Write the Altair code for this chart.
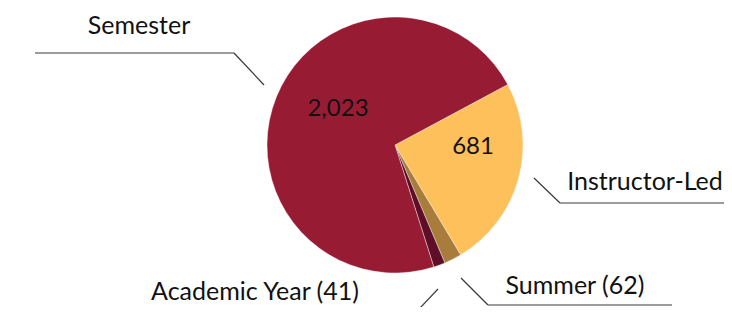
import math
import altair as alt
import pandas as pd

categories = ["Instructor-Led", "Summer", "Academic Year", "Semester"]
values = [681, 62, 41, 2023]
colors = ["#fdc05b", "#a87d3b", "#5e0f27", "#981b34"]

# layout (page pixels; chart origin is at page (8, 8))
OFF = 8
CX, CY, R = 395, 145, 128
START = math.radians(61.8)

pie_df = pd.DataFrame({"category": categories, "value": values, "order": list(range(len(values)))})

pie = alt.Chart(pie_df).mark_arc(outerRadius=R, stroke="#ffffff", strokeWidth=0.4).encode(
    theta=alt.Theta("value:Q", stack=True, scale=alt.Scale(range=[START, START + 2 * math.pi])),
    color=alt.Color("category:N", scale=alt.Scale(domain=categories, range=colors), legend=None),
    order=alt.Order("order:Q"),
    x=alt.value(CX - OFF),
    y=alt.value(CY - OFF),
)

# leader line segments (page pixels)
segs = [
    (35, 53, 234, 53), (234, 53, 264, 85),
    (534, 178, 560, 203), (560, 203, 724, 203),
    (461, 278, 488, 305), (488, 305, 672, 305),
    (438, 289, 420, 308),
]
seg_df = pd.DataFrame([
    {"x": a - OFF, "y": b - OFF, "x2": c - OFF, "y2": d - OFF} for a, b, c, d in segs
])
lines = alt.Chart(seg_df).mark_rule(color="#3a3a3a", strokeWidth=1.2).encode(
    x=alt.X("x:Q", scale=None), y=alt.Y("y:Q", scale=None),
    x2="x2:Q", y2="y2:Q",
)

outer_labels = ["Semester", "Instructor-Led", "Summer (62)", "Academic Year (41)"]
outer_pos = [(139, 26), (645, 182), (575, 286), (255, 292)]
lab_df = pd.DataFrame({
    "text": outer_labels,
    "x": [p[0] - OFF for p in outer_pos],
    "y": [p[1] - OFF for p in outer_pos],
})
labels = alt.Chart(lab_df).mark_text(font="Lato", fontSize=25, color="#111111", baseline="middle", align="center").encode(
    x=alt.X("x:Q", scale=None), y=alt.Y("y:Q", scale=None), text="text:N"
)

inner_labels = ["2,023", "681"]
inner_pos = [(338, 109), (473, 147)]
in_df = pd.DataFrame({
    "text": inner_labels,
    "x": [p[0] - OFF for p in inner_pos],
    "y": [p[1] - OFF for p in inner_pos],
})
inner = alt.Chart(in_df).mark_text(font="Lato", fontSize=24, color="#111111", baseline="middle", align="center").encode(
    x=alt.X("x:Q", scale=None), y=alt.Y("y:Q", scale=None), text="text:N"
)

chart = alt.layer(pie, lines, labels, inner).properties(
    width=716, height=299, padding=0, autosize="none", background="#ffffff"
).configure_view(stroke=None)

chart.save("out.html", embed_options={"renderer": "svg", "actions": False})
